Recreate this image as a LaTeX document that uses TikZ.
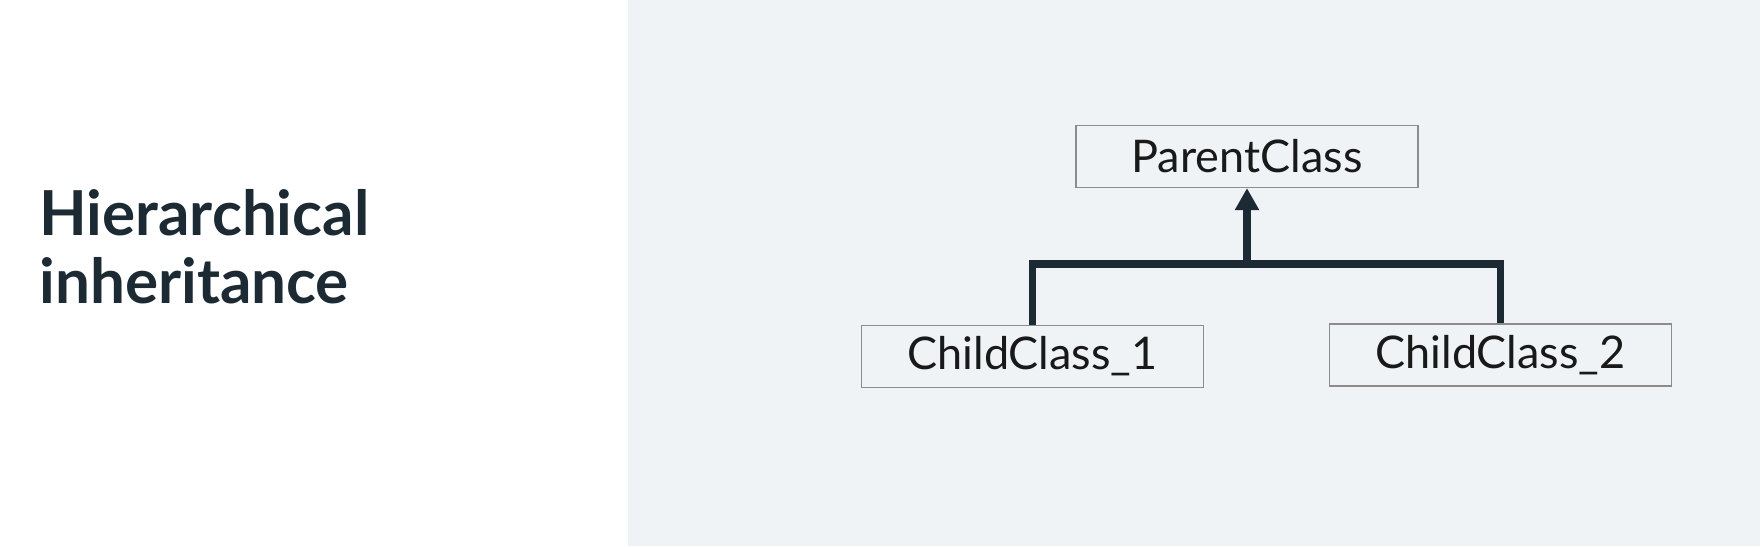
\documentclass[tikz,border=0pt]{standalone}
\usepackage{fontspec}
\setmainfont{Lato}
\usetikzlibrary{arrows.meta}
\definecolor{ink}{HTML}{1C2B33}
\definecolor{panel}{HTML}{F0F3F6}
\definecolor{boxline}{HTML}{8C8C8C}
\begin{document}
\begin{tikzpicture}[x=0.5pt,y=-0.5pt,>={Triangle[length=11pt,width=11.5pt]},
	cls/.style={draw=boxline,line width=0.6pt,fill=panel,minimum width=171pt,minimum height=31pt,inner sep=0pt,font=\fontsize{22.5}{26}\selectfont,text=black!90}]
			\useasboundingbox (0,0) rectangle (1760,546);
			\fill[white] (0,0) rectangle (628,546);
			\fill[panel] (628,0) rectangle (1760,546);
			\node[anchor=base west,inner sep=0pt,align=left,text=ink,font=\fontsize{31}{34}\selectfont\bfseries] (title) at (39,303) {Hierarchical\\inheritance};
			\node[cls] (parent) at (1247,156.5) {ParentClass};
			\node[cls] (child1) at (1032.5,356.5) {ChildClass\_1};
			\node[cls] (child2) at (1500.5,355) {ChildClass\_2};
			\coordinate (joint) at (1247,264);
			\draw[ink,line width=3.7pt] (child1.north) |- (joint) -| (child2.north);
			\draw[ink,line width=4pt,->] (joint) -- (parent.south);
		\end{tikzpicture}
\end{document}
